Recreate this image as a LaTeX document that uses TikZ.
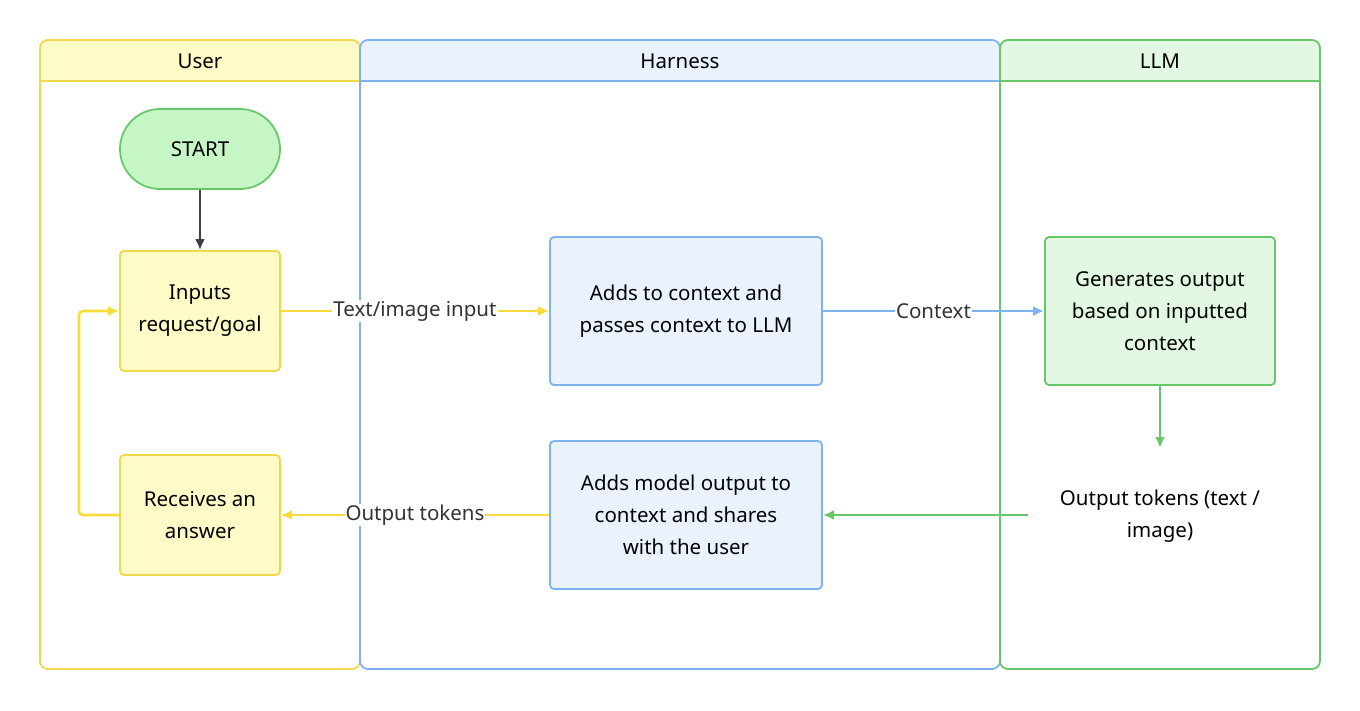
\documentclass[tikz,border=0pt]{standalone}
\usepackage{fontspec}
\setmainfont{Noto Sans}
\usetikzlibrary{arrows.meta}
\definecolor{yb}{HTML}{F0D84A}\definecolor{yf}{HTML}{FEFBC6}
\definecolor{bb}{HTML}{7DB4EE}\definecolor{bf}{HTML}{EAF2FE}
\definecolor{gb}{HTML}{66C866}\definecolor{gf}{HTML}{E3F8E3}\definecolor{gs}{HTML}{C6F6C6}
\definecolor{ya}{HTML}{F8DC3C}\definecolor{dk}{HTML}{3A3F4A}
\begin{document}
\begin{tikzpicture}[x=1pt,y=-1pt,
 every node/.style={font=\fontsize{20.5}{32}\selectfont, text=black, align=center},
 box/.style={draw, line width=1.8pt, rounded corners=4pt, minimum width=#1},
 lab/.style={fill=white, inner sep=1pt, text=black!80},
 arr/.style={line width=2.6pt, -{Latex[length=11pt,width=10pt]}}]
\useasboundingbox (0,0) rectangle (1360,710);
% lanes
\foreach \a/\b/\bc/\fc/\t/\n in {40/360/yb/yf/User/u, 360/1000/bb/bf/Harness/h, 1000/1320/gb/gf/LLM/l}{
 \begin{scope}
 \clip[rounded corners=8pt] (\a,40) rectangle (\b,669);
 \fill[\fc] (\a,40) rectangle (\b,81);
 \end{scope}
 \draw[\bc, line width=1.8pt] (\a,81) -- (\b,81);
 \draw[\bc, line width=1.8pt, rounded corners=8pt] (\a,40) rectangle (\b,669);
 \node (\n) at ({(\a+\b)/2},61) {\t};
}
\node[box=160pt, draw=gb, fill=gs, rounded corners=40pt, minimum height=80pt] (start) at (200,149) {START};
\node[box=160pt, draw=yb, fill=yf, minimum height=120pt] (inp) at (200,311) {Inputs\\request/goal};
\node[box=160pt, draw=yb, fill=yf, minimum height=120pt] (rec) at (200,515) {Receives an\\answer};
\node[box=272pt, draw=bb, fill=bf, minimum height=148pt] (ctx) at (686,311) {Adds to context and\\passes context to LLM};
\node[box=272pt, draw=bb, fill=bf, minimum height=148pt] (mod) at (686,515) {Adds model output to\\context and shares\\with the user};
\node[box=230pt, draw=gb, fill=gf, minimum height=148pt] (gen) at (1160,311) {Generates output\\based on inputted\\context};
\node[minimum width=260pt, minimum height=120pt, inner sep=0pt] (out) at (1160,516) {Output tokens (text /\\image)};
\draw[arr, dk] (start) -- (inp);
\draw[arr, ya] (inp) -- node[lab]{Text/image input} (ctx);
\draw[arr, bb] (ctx) -- node[lab]{Context} (gen);
\draw[arr, gb] (gen) -- (1160,448);
\draw[arr, gb] (1028,515) -- (mod);
\draw[arr, ya] (mod) -- node[lab]{Output tokens} (rec);
\draw[arr, ya, rounded corners=4pt] (rec.west) -- (79,515) -- (79,311) -- (inp.west);
\end{tikzpicture}
\end{document}
